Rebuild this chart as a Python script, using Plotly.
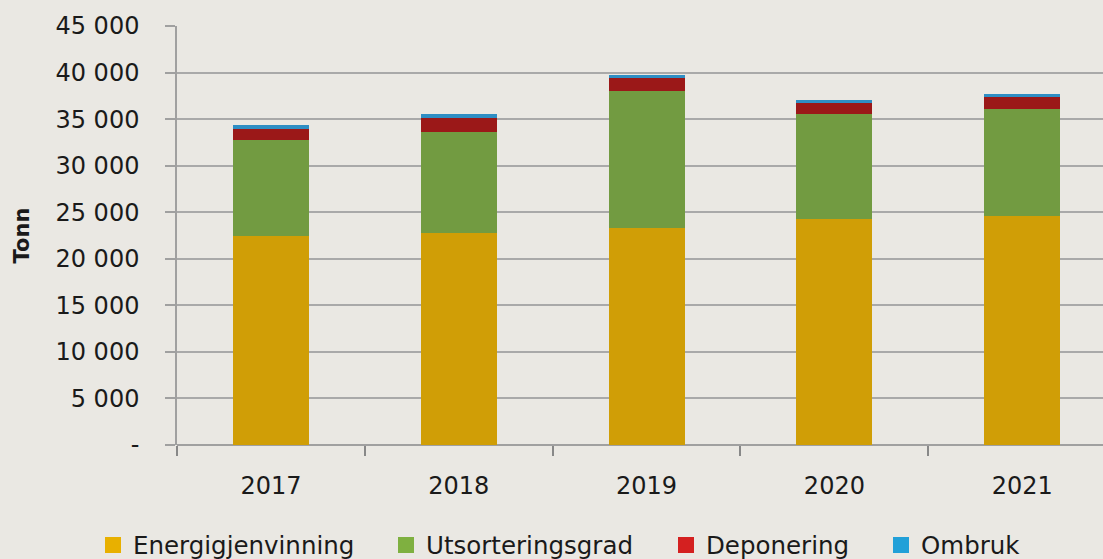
import plotly.graph_objects as go

years = ["2017", "2018", "2019", "2020", "2021"]
energigjenvinning = [22450, 22740, 23270, 24240, 24630]
utsorteringsgrad = [10300, 10910, 14790, 11310, 11430]
deponering = [1180, 1510, 1330, 1220, 1290]
ombruk = [400, 360, 350, 290, 320]

series = [
    ("Energigjenvinning", energigjenvinning, "#D09E06", "#E8B000"),
    ("Utsorteringsgrad", utsorteringsgrad, "#729B41", "#7FB040"),
    ("Deponering", deponering, "#9B1818", "#D42020"),
    ("Ombruk", ombruk, "#2E8EC4", "#22A0D8"),
]
legend_ids = ["legend", "legend2", "legend3", "legend4"]
legend_x_px = [93, 386, 666, 881]

ytick_vals = [0, 5000, 10000, 15000, 20000, 25000, 30000, 35000, 40000, 45000]
ytick_text = ["-", "5 000", "10 000", "15 000", "20 000", "25 000", "30 000", "35 000", "40 000", "45 000"]

W, H = 1103, 559
fig = go.Figure()
for name, vals, col, legcol in series:
    fig.add_trace(go.Bar(x=years, y=vals, name=name, marker=dict(color=col, line=dict(width=0)),
                         showlegend=False))
for (name, vals, col, legcol), lid in zip(series, legend_ids):
    fig.add_trace(go.Scatter(x=[None], y=[None], name=name, mode="markers",
                             marker=dict(symbol="square", size=16, color=legcol),
                             showlegend=True, legend=lid))

bg = "#EAE8E3"
legend_common = dict(orientation="h", xref="container", yref="container",
                     y=(H - 545) / H, yanchor="middle", xanchor="left",
                     font=dict(family="DejaVu Sans", size=24.5, color="#1a1a1a"),
                     bgcolor="rgba(0,0,0,0)", borderwidth=0, itemwidth=30)
legends = {lid: dict(legend_common, x=px / W) for lid, px in zip(legend_ids, legend_x_px)}

fig.update_layout(
    barmode="stack",
    bargap=0.595,
    width=W, height=H,
    paper_bgcolor=bg, plot_bgcolor=bg,
    margin=dict(l=177, r=0, t=26, b=114, autoexpand=False),
    font=dict(family="DejaVu Sans", size=24, color="#1a1a1a"),
    xaxis=dict(range=[-0.5, 4.43], type="category", showgrid=False, showline=False,
               ticks="outside", tickson="boundaries", ticklen=10, tickcolor="#888888",
               tickwidth=1.5, tickfont=dict(size=24), ticklabelstandoff=24),
    yaxis=dict(range=[0, 45000], tickvals=ytick_vals, ticktext=ytick_text,
               showgrid=True, gridcolor="#A9A9A9", gridwidth=2,
               zeroline=True, zerolinecolor="#A0A0A0", zerolinewidth=2,
               showline=True, linecolor="#A0A0A0", linewidth=1.5,
               ticks="outside", ticklen=10, tickcolor="#A0A0A0", tickwidth=1.5,
               tickfont=dict(size=24), ticklabelstandoff=21,
               title=dict(text="<b>Tonn</b>", font=dict(size=21), standoff=20)),
    **legends,
)
fig.write_html("out.html", config={"displayModeBar": False},
               post_script="document.body.style.margin='0';document.body.style.background='#EAE8E3';")
